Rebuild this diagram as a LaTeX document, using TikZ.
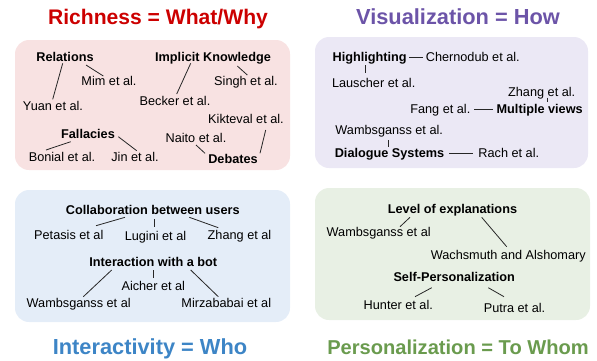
\documentclass[tikz,border=0pt]{standalone}
\usepackage{fontspec}
\setmainfont{Liberation Sans}
\definecolor{cRed}{RGB}{204,0,0}
\definecolor{cPur}{RGB}{108,84,168}
\definecolor{cBlu}{RGB}{61,133,198}
\definecolor{cGrn}{RGB}{106,155,78}
\definecolor{fRed}{RGB}{248,226,226}
\definecolor{fPur}{RGB}{235,232,245}
\definecolor{fBlu}{RGB}{228,237,248}
\definecolor{fGrn}{RGB}{232,240,228}
\begin{document}
\begin{tikzpicture}[x=1pt,y=-1pt,
  lab/.style={font=\fontsize{12.7}{14}\selectfont, inner sep=0pt, text height=9pt, text depth=0pt},
  hd/.style={lab, font=\fontsize{12.7}{14}\selectfont\bfseries},
  ttl/.style={inner sep=0pt, text height=16pt, text depth=0pt},
  panel/.style={rounded corners=14pt, draw=none},
  ln/.style={draw=black!85, line width=0.8pt}]
\useasboundingbox (0,0) rectangle (597,360);

% panels
\path[panel, fill=fRed] (15,40) rectangle (290,170);
\path[panel, fill=fPur] (315,37) rectangle (588,168);
\path[panel, fill=fBlu] (15,190) rectangle (290,322);
\path[panel, fill=fGrn] (315,188) rectangle (590,320);

% titles
\node[ttl, text=cRed, font=\fontsize{21.1}{24}\selectfont\bfseries] (tR) at (158,16) {Richness = What/Why};
\node[ttl, text=cPur, font=\fontsize{21.8}{24}\selectfont\bfseries] (tV) at (458,16) {Visualization = How};
\node[ttl, text=cBlu, font=\fontsize{21.8}{24}\selectfont\bfseries] (tI) at (150,346) {Interactivity = Who};
\node[ttl, text=cGrn, font=\fontsize{20.1}{24}\selectfont\bfseries] (tP) at (458,346) {Personalization = To Whom};

% Richness
\node[hd] (rel) at (65,57.3) {Relations};
\node[lab] (mim) at (109,80.7) {Mim et al.};
\node[lab] (yuan) at (53,106) {Yuan et al.};
\node[hd] (impl) at (213,57.3) {Implicit Knowledge};
\node[lab] (singh) at (246,80.7) {Singh et al.};
\node[lab] (becker) at (175,100.7) {Becker et al.};
\node[lab] (kik) at (246,119.3) {Kikteval et al.};
\node[hd] (fall) at (88,134) {Fallacies};
\node[lab] (naito) at (196,138.3) {Naito et al.};
\node[lab] (bonial) at (62,157.3) {Bonial et al.};
\node[lab] (jin) at (135,157.3) {Jin et al.};
\node[hd] (deb) at (233,159.3) {Debates};

\draw[ln] ([shift={(-2.3,6)}]rel.center) -- ([shift={(-0.3,-6.7)}]yuan.center);
\draw[ln] ([shift={(21,7.7)}]rel.center) -- ([shift={(-5.7,-4.7)}]mim.center);
\draw[ln] ([shift={(-22.3,6)}]impl.center) -- ([shift={(1.7,-6.7)}]becker.center);
\draw[ln] ([shift={(24.3,8.7)}]impl.center) -- ([shift={(1.3,-5.7)}]singh.center);
\draw[ln] ([shift={(-17.3,7.7)}]fall.center) -- ([shift={(-16,-7.3)}]bonial.center);
\draw[ln] ([shift={(30.3,2.7)}]fall.center) -- ([shift={(1.7,-6.6)}]jin.center);
\draw[ln] ([shift={(0,6.7)}]naito.center) -- ([shift={(-28,-6)}]deb.center);
\draw[ln] ([shift={(19.7,10.7)}]kik.center) -- ([shift={(27,-6)}]deb.center);

% Visualization
\node[hd] (hl) at (369.7,57.3) {Highlighting};
\node[lab] (chern) at (472.8,57.3) {Chernodub et al.};
\node[lab] (lau) at (373.7,82.7) {Lauscher et al.};
\node[lab] (zhv) at (541.7,91.7) {Zhang et al.};
\node[hd] (mv) at (539.7,109) {Multiple views};
\node[lab] (fang) at (440.3,109) {Fang et al.};
\node[lab] (wamv) at (389.2,130) {Wambsganss et al.};
\node[hd] (ds) at (389.5,153.3) {Dialogue Systems};
\node[lab] (rach) at (508.8,153.3) {Rach et al.};

\draw[ln, shorten <=2.5pt, shorten >=2.5pt] (hl.east) -- (chern.west);
\draw[ln] ([shift={(-4,7.7)}]hl.center) -- ([shift={(-8,-9.4)}]lau.center);
\draw[ln] ([shift={(5.5,6)}]zhv.center) -- ([shift={(7.5,-7.3)}]mv.center);
\draw[ln, shorten <=3.5pt, shorten >=3.5pt] (fang.east) -- (mv.west);
\draw[ln] ([shift={(-0.9,10)}]wamv.center) -- ([shift={(-1.2,-6.6)}]ds.center);
\draw[ln, shorten <=5pt, shorten >=5pt] (ds.east) -- (rach.west);

% Interactivity
\node[hd] (collab) at (152.8,210) {Collaboration between users};
\node[lab] (pet) at (68.8,235) {Petasis et al};
\node[lab] (lug) at (155.5,235.5) {Lugini et al};
\node[lab] (zhb) at (239.5,235) {Zhang et al};
\node[hd] (inter) at (153.3,262.3) {Interaction with a bot};
\node[lab] (aich) at (153.3,285.7) {Aicher et al};
\node[lab] (wamb) at (78.7,303.3) {Wambsganss et al};
\node[lab] (mirz) at (226.3,303.3) {Mirzababai et al};

\draw[ln] ([shift={(-27.8,7.3)}]collab.center) -- ([shift={(27.2,-9.3)}]pet.center);
\draw[ln] ([shift={(1.5,9)}]collab.center) -- ([shift={(-1.2,-8.8)}]lug.center);
\draw[ln] ([shift={(36.5,7.3)}]collab.center) -- ([shift={(-21.2,-7.3)}]zhb.center);
\draw[ln] ([shift={(0,7.7)}]inter.center) -- ([shift={(0,-8)}]aich.center);
\draw[ln] ([shift={(-41.6,7.7)}]inter.center) -- ([shift={(4.6,-6.6)}]wamb.center);
\draw[ln] ([shift={(37.4,7.7)}]inter.center) -- ([shift={(-8,-6.6)}]mirz.center);

% Personalization
\node[hd] (lev) at (452.5,209) {Level of explanations};
\node[lab] (wamg) at (378.7,232.3) {Wambsganss et al};
\node[lab] (wach) at (508.3,255) {Wachsmuth and Alshomary};
\node[hd] (selfp) at (454.2,277.3) {Self-Personalization};
\node[lab] (hunt) at (398.3,305) {Hunter et al.};
\node[lab] (put) at (514.5,307.7) {Putra et al.};

\draw[ln] ([shift={(-42.5,8.3)}]lev.center) -- ([shift={(21.3,-5.6)}]wamg.center);
\draw[ln] ([shift={(29.2,8.3)}]lev.center) -- ([shift={(-1.6,-8.3)}]wach.center);
\draw[ln] ([shift={(-22.5,10.4)}]selfp.center) -- ([shift={(16.7,-8.3)}]hunt.center);
\draw[ln] ([shift={(34.1,10.4)}]selfp.center) -- ([shift={(-10.5,-11)}]put.center);
\end{tikzpicture}
\end{document}
